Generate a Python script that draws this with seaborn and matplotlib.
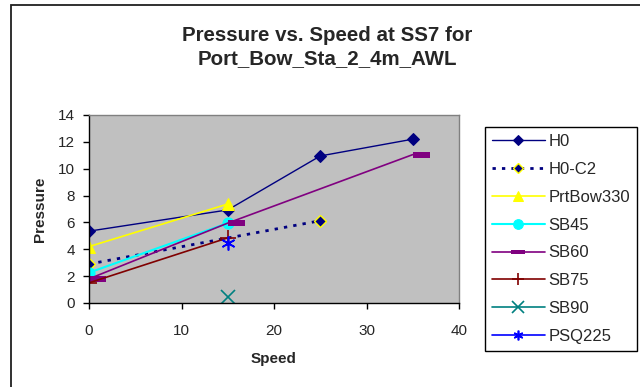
import matplotlib
matplotlib.use("Agg")
import matplotlib.pyplot as plt
from matplotlib.path import Path
from matplotlib.patches import Rectangle
import seaborn as sns

# Speed / pressure measurements per configuration
h0_speed = [0, 15, 25, 35]
h0_pressure = [5.35, 6.93, 10.95, 12.2]

h0c2_speed = [0, 25]
h0c2_pressure = [2.9, 6.13]

prtbow330_speed = [0, 15]
prtbow330_pressure = [4.2, 7.37]

sb45_speed = [0, 15]
sb45_pressure = [2.26, 5.95]

sb60_speed = [0, 15, 35]
sb60_pressure = [1.8, 5.95, 11.05]

sb75_speed = [0, 15]
sb75_pressure = [1.5, 4.85]

sb90_speed = [15]
sb90_pressure = [0.42]

psq225_speed = [15]
psq225_pressure = [4.45]

x_ticks = [0, 10, 20, 30, 40]
y_ticks = [0, 2, 4, 6, 8, 10, 12, 14]

sns.set_theme(style="white")
plt.rcParams["font.family"] = ["Liberation Sans", "DejaVu Sans"]

fig = plt.figure(figsize=(6.4, 3.87), dpi=100)
ax = fig.add_axes([89 / 640, 1 - 303 / 387, 370 / 640, 188 / 387])
ax.set_facecolor("#C0C0C0")

# Dash marker drawn from the point towards the right
dash_marker = Path([(0, -0.18), (1, -0.18), (1, 0.18), (0, 0.18), (0, -0.18)],
                   [Path.MOVETO, Path.LINETO, Path.LINETO, Path.LINETO, Path.CLOSEPOLY])
# Centred dash for the legend key
dash_centre = Path([(-1, -0.3), (1, -0.3), (1, 0.3), (-1, 0.3), (-1, -0.3)],
                   [Path.MOVETO, Path.LINETO, Path.LINETO, Path.LINETO, Path.CLOSEPOLY])

series = [
    ("H0", h0_speed, h0_pressure, dict(color="#000080", marker="D", markersize=6,
                                        markerfacecolor="#000080", markeredgecolor="#000080", linewidth=1)),
    ("H0-C2", h0c2_speed, h0c2_pressure, dict(color="#000080", marker="D", markersize=6,
                                              markerfacecolor="#000080", markeredgecolor="#FFFF00",
                                              markeredgewidth=1, linewidth=2, linestyle=(0, (1.2, 2.2)))),
    ("PrtBow330", prtbow330_speed, prtbow330_pressure, dict(color="#FFFF00", marker="^", markersize=8,
                                                            markerfacecolor="#FFFF00", markeredgecolor="#FFFF00",
                                                            linewidth=1.2)),
    ("SB45", sb45_speed, sb45_pressure, dict(color="#00FFFF", marker="o", markersize=8,
                                             markerfacecolor="#00FFFF", markeredgecolor="#00FFFF", linewidth=1.5)),
    ("SB60", sb60_speed, sb60_pressure, dict(color="#800080", marker=dash_marker, markersize=24,
                                             markerfacecolor="#800080", markeredgecolor="#800080",
                                             markeredgewidth=0, linewidth=1.2)),
    ("SB75", sb75_speed, sb75_pressure, dict(color="#800000", marker="+", markersize=12,
                                             markeredgecolor="#800000", markeredgewidth=1.2, linewidth=1.2)),
    ("SB90", sb90_speed, sb90_pressure, dict(color="#008080", marker="x", markersize=10,
                                             markeredgecolor="#008080", markeredgewidth=1.2, linewidth=1.2)),
    ("PSQ225", psq225_speed, psq225_pressure, dict(color="#0000FF", marker=(6, 2, 0), markersize=10,
                                                   markeredgecolor="#0000FF", markeredgewidth=1.2, linewidth=1.2)),
]

for name, xs, ys, style in series:
    sns.lineplot(x=xs, y=ys, ax=ax, label=name, estimator=None, sort=False, **style)

ax.set_xlim(0, 40)
ax.set_ylim(0, 14)
ax.set_xticks(x_ticks)
ax.set_yticks(y_ticks)
ax.set_xticklabels([str(v) for v in x_ticks], fontsize=11)
ax.set_yticklabels([str(v) for v in y_ticks], fontsize=11)
ax.tick_params(axis="both", direction="out", length=4, width=1, color="black",
               bottom=True, left=True, pad=6)
ax.tick_params(axis="x", pad=11)

for side in ["top", "right"]:
    ax.spines[side].set_color("#808080")
    ax.spines[side].set_linewidth(1)
for side in ["left", "bottom"]:
    ax.spines[side].set_color("black")
    ax.spines[side].set_linewidth(1)

ax.set_xlabel("Speed", fontsize=11, fontweight="bold", labelpad=10)
ax.set_ylabel("Pressure", fontsize=11, fontweight="bold", labelpad=8)

fig.text(327 / 640, 1 - 47 / 387,
         "Pressure vs. Speed at SS7 for\nPort_Bow_Sta_2_4m_AWL",
         ha="center", va="center", fontsize=14.8, fontweight="bold", linespacing=1.3)

leg = ax.legend(loc="upper left", bbox_to_anchor=(485 / 640, 1 - 127 / 387),
                bbox_transform=fig.transFigure, frameon=True, fancybox=False,
                fontsize=12, handlelength=3.15, handletextpad=0.25,
                labelspacing=0.77, borderpad=0.42, borderaxespad=0)
leg.get_frame().set_edgecolor("black")
leg.get_frame().set_linewidth(1)
leg.get_frame().set_facecolor("white")
leg.get_frame().set_alpha(1)

# Smaller keys in the legend
legend_sizes = [5, 5, 7, 7, 7, 9, 9, 7]
for handle, size in zip(leg.legend_handles, legend_sizes):
    handle.set_markersize(size)
leg.legend_handles[4].set_marker(dash_centre)
leg.legend_handles[4].set_markersize(10)

# Outer chart border
fig.patches.append(Rectangle((11 / 640, -0.05), 1.0, 1 - 5 / 387 + 0.05,
                             transform=fig.transFigure, fill=False,
                             edgecolor="#202020", linewidth=1.3))

fig.savefig("out.png", dpi=100)
